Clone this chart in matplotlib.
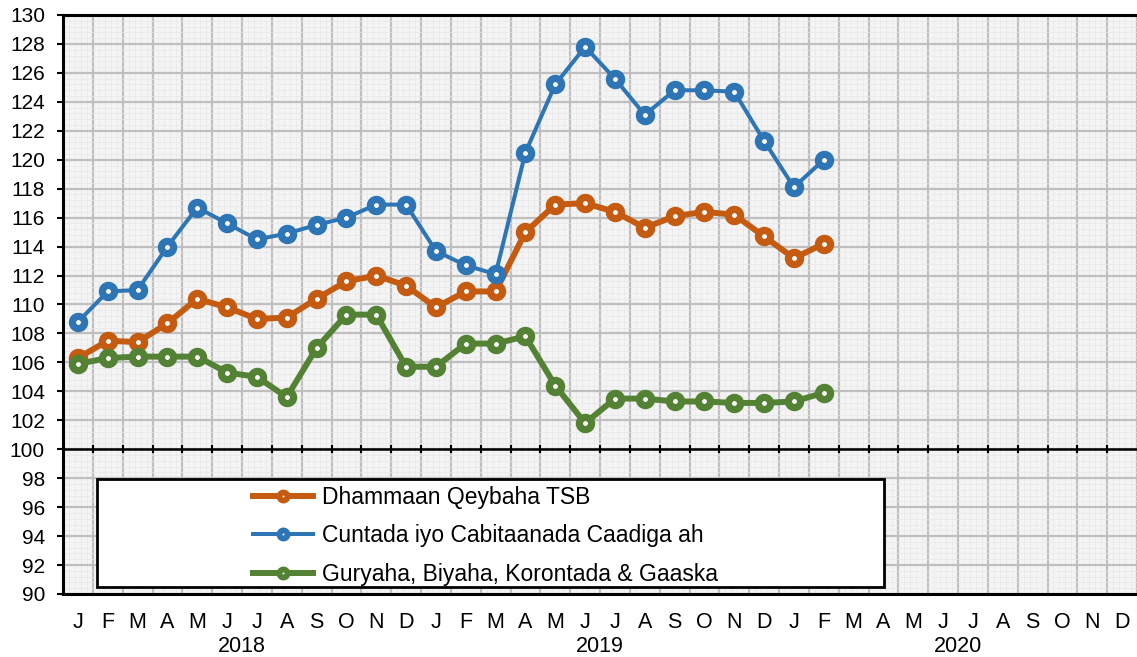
import numpy as np
import matplotlib
matplotlib.use("Agg")
from matplotlib import pyplot as plt
from matplotlib.ticker import MultipleLocator
from matplotlib.transforms import blended_transform_factory

plt.rcParams['font.family'] = ['Liberation Sans', 'DejaVu Sans']

# month letters for three years
months = ['J', 'F', 'M', 'A', 'M', 'J', 'J', 'A', 'S', 'O', 'N', 'D'] * 3
years = ['2018', '2019', '2020']

labels = ['Dhammaan Qeybaha TSB',
          'Cuntada iyo Cabitaanada Caadiga ah',
          'Guryaha, Biyaha, Korontada & Gaaska']

# Jan 2018 .. Feb 2020
tsb_all = [106.3, 107.5, 107.4, 108.7, 110.4, 109.8, 109.0, 109.1, 110.4, 111.6, 112.0, 111.3,
           109.8, 110.9, 110.9, 115.0, 116.9, 117.0, 116.4, 115.3, 116.1, 116.4, 116.2, 114.7,
           113.2, 114.2]
food = [108.8, 110.9, 111.0, 114.0, 116.7, 115.6, 114.5, 114.9, 115.5, 116.0, 116.9, 116.9,
        113.7, 112.7, 112.1, 120.5, 125.2, 127.8, 125.6, 123.1, 124.8, 124.8, 124.7, 121.3,
        118.1, 120.0]
housing = [105.9, 106.3, 106.4, 106.4, 106.4, 105.3, 105.0, 103.6, 107.0, 109.3, 109.3, 105.7,
           105.7, 107.3, 107.3, 107.8, 104.4, 101.8, 103.5, 103.5, 103.3, 103.3, 103.2, 103.2,
           103.3, 103.9]

colors = ['#C55A11', '#2E75B6', '#548235']
widths = [4.3, 2.9, 4.3]

fig = plt.figure(figsize=(11.37, 6.57), dpi=100)
ax = fig.add_axes([63 / 1137, 1 - 594 / 657, 1 - 63 / 1137, (594 - 15) / 657])
ax.set_facecolor('#F4F4F4')

ax.set_xlim(0, 36)
ax.set_ylim(90, 130)

# grid
ax.xaxis.set_major_locator(MultipleLocator(1))
ax.xaxis.set_minor_locator(MultipleLocator(0.2))
ax.yaxis.set_major_locator(MultipleLocator(2))
ax.yaxis.set_minor_locator(MultipleLocator(0.4))
ax.grid(which='major', color='#BFBFBF', linewidth=1.6, zorder=0)
ax.grid(which='minor', color='#E8E8E8', linewidth=0.5, zorder=0)
ax.set_axisbelow(True)
ax.tick_params(axis='x', which='both', length=0, labelbottom=False)
ax.tick_params(axis='y', which='minor', length=0)
ax.tick_params(axis='y', which='major', direction='out', length=4, width=1.5,
               labelsize=15, pad=9)

# month labels and years (category axis)
trans = blended_transform_factory(ax.transData, ax.transAxes)
for i, m in enumerate(months):
    ax.text(i + 0.5, -0.049, m, transform=trans, ha='center', va='center', fontsize=15.5)
for k, yr in enumerate(years):
    ax.text(12 * k + 6, -0.09, yr, transform=trans, ha='center', va='center', fontsize=15.5)

# category axis crossing at 100
ax.axhline(100, color='black', linewidth=1.8, zorder=2)
ax.vlines(np.arange(1, 36), 99.72, 100.28, color='black', linewidth=1.5, zorder=2)

for s in ['left', 'top', 'bottom']:
    ax.spines[s].set_linewidth(2.2)
    ax.spines[s].set_color('black')
ax.spines['right'].set_visible(False)

x = np.arange(len(tsb_all)) + 0.5
series = [tsb_all, food, housing]
handles = []
for vals, c, lw, lab in zip(series, colors, widths, labels):
    h, = ax.plot(x, vals, color=c, linewidth=lw, marker='o', markersize=8.8,
                 markerfacecolor='white', markeredgecolor=c, markeredgewidth=5.2,
                 label=lab, zorder=3, clip_on=False)
    handles.append(h)

# legend box
box = plt.Rectangle((1.14, 90.47), 27.52 - 1.14, 97.93 - 90.47, facecolor='white',
                    edgecolor='black', linewidth=2, zorder=4)
ax.add_patch(box)
leg = ax.legend(handles=handles, loc='upper left', bbox_to_anchor=(0.177, 0.186),
                frameon=False, fontsize=16.5, handlelength=2.6, handletextpad=0.4,
                labelspacing=0.66, borderpad=0, borderaxespad=0)
leg.set_zorder(5)
for lh in leg.legend_handles:
    lh.set_markersize(5.8)
    lh.set_markeredgewidth(4.2)

fig.savefig('out.png', dpi=100)
